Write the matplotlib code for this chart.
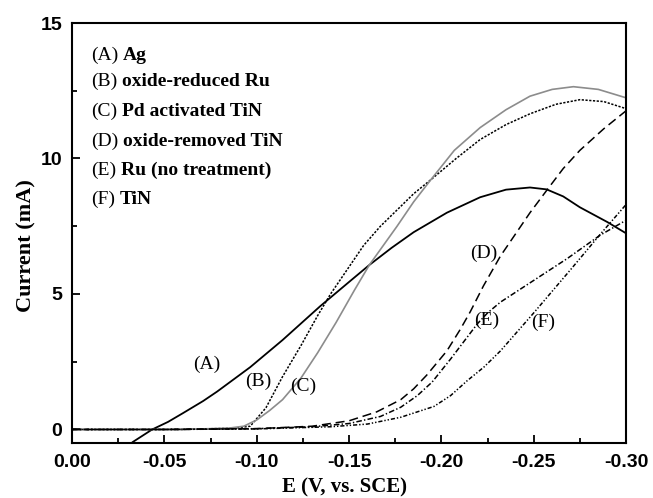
import matplotlib
matplotlib.use("Agg")
import matplotlib.pyplot as plt
from matplotlib.ticker import MultipleLocator, FormatStrFormatter

plt.rcParams["axes.unicode_minus"] = False
plt.rcParams["lines.scale_dashes"] = False

# Polarization curves: potential (V vs. SCE) and current (mA)
A_E = [-0.0325, -0.0434, -0.052, -0.060, -0.071, -0.0786, -0.0965, -0.114, -0.1344,
       -0.151, -0.161, -0.173, -0.185, -0.203, -0.221, -0.235, -0.248, -0.257,
       -0.266, -0.275, -0.290, -0.300]
A_I = [-0.48, 0.0, 0.28, 0.6, 1.05, 1.4, 2.3, 3.3, 4.55,
       5.5, 6.07, 6.7, 7.28, 8.0, 8.57, 8.85, 8.93, 8.86,
       8.6, 8.2, 7.65, 7.24]

B_E = [0.0, -0.06, -0.088, -0.0965, -0.105, -0.114, -0.124, -0.133, -0.140, -0.151,
       -0.158, -0.167, -0.176, -0.185, -0.194, -0.208, -0.221, -0.235, -0.248,
       -0.262, -0.275, -0.288, -0.300]
B_I = [0.0, 0.0, 0.05, 0.12, 0.8, 1.95, 3.1, 4.2, 5.0, 6.1,
       6.8, 7.5, 8.1, 8.7, 9.2, 10.0, 10.7, 11.25, 11.65,
       12.0, 12.17, 12.1, 11.84]

C_E = [0.0, -0.06, -0.085, -0.093, -0.100, -0.107, -0.114, -0.124, -0.133, -0.143,
       -0.153, -0.161, -0.176, -0.185, -0.194, -0.207, -0.221, -0.235, -0.248,
       -0.260, -0.2715, -0.285, -0.300]
C_I = [0.0, 0.0, 0.05, 0.12, 0.35, 0.7, 1.1, 1.9, 2.83, 3.95,
       5.15, 6.07, 7.5, 8.4, 9.19, 10.3, 11.14, 11.8, 12.3,
       12.55, 12.65, 12.55, 12.24]

D_E = [0.0, -0.05, -0.10, -0.13, -0.15, -0.165, -0.178, -0.185, -0.192, -0.203, -0.2103,
       -0.2157, -0.2228, -0.232, -0.239, -0.248, -0.257, -0.266, -0.275, -0.288, -0.300]
D_I = [0.0, 0.0, 0.03, 0.12, 0.32, 0.65, 1.1, 1.5, 2.0, 2.9, 3.7,
       4.35, 5.3, 6.4, 7.1, 8.0, 8.82, 9.63, 10.3, 11.1, 11.76]

E_E = [0.0, -0.05, -0.10, -0.13, -0.15, -0.167, -0.178, -0.187, -0.195, -0.205,
       -0.2195, -0.225, -0.232, -0.250, -0.268, -0.286, -0.300]
E_I = [0.0, 0.0, 0.03, 0.1, 0.22, 0.48, 0.82, 1.25, 1.75, 2.6,
       3.9, 4.3, 4.7, 5.5, 6.3, 7.17, 7.72]

F_E = [0.0, -0.05, -0.10, -0.14, -0.16, -0.178, -0.196, -0.205, -0.214, -0.223,
       -0.232, -0.241, -0.250, -0.260, -0.270, -0.286, -0.300]
F_I = [0.0, 0.0, 0.02, 0.1, 0.2, 0.45, 0.85, 1.25, 1.8, 2.3,
       2.9, 3.6, 4.3, 5.1, 5.9, 7.2, 8.3]

curve_tags = ["(A)", "(B)", "(C)", "(D)", "(E)", "(F)"]
curve_names = ["Ag", "oxide-reduced Ru", "Pd activated TiN",
               "oxide-removed TiN", "Ru (no treatment)", "TiN"]
tag_E = [-0.0732, -0.1008, -0.1252, -0.2228, -0.2244, -0.2553]
tag_I = [2.39, 1.76, 1.58, 6.5, 4.04, 3.97]

x_ticks = [0.00, -0.05, -0.10, -0.15, -0.20, -0.25, -0.30]
y_ticks = [0, 5, 10, 15]

SERIF = "Liberation Serif"
SANS = "Liberation Sans"

fig = plt.figure(figsize=(6.53, 4.98), dpi=100)
ax = fig.add_axes([0.1103, 0.1104, 0.8484, 0.8434])

ax.plot(A_E, A_I, color="black", lw=1.3, solid_capstyle="butt")
ax.plot(B_E, B_I, color="black", lw=1.1, dashes=(1.6, 1.1))
ax.plot(C_E, C_I, color="#8c8c8c", lw=1.2)
ax.plot(D_E, D_I, color="black", lw=1.1, dashes=(6.5, 3.5))
ax.plot(E_E, E_I, color="black", lw=1.1, dashes=(4.0, 1.6, 1.0, 1.6))
ax.plot(F_E, F_I, color="black", lw=1.1, dashes=(3.0, 1.4, 1.0, 1.4, 1.0, 1.4))

ax.set_xlim(0.0, -0.30)
ax.set_ylim(-0.5, 15)

ax.xaxis.set_minor_locator(MultipleLocator(0.025))
ax.yaxis.set_minor_locator(MultipleLocator(2.5))
ax.set_xticks(x_ticks)
ax.set_yticks(y_ticks)
ax.xaxis.set_major_formatter(FormatStrFormatter("%.2f"))

ax.tick_params(which="both", direction="in", top=False, right=False, width=1.3)
ax.tick_params(which="major", length=6)
ax.tick_params(which="minor", length=3.5)
ax.tick_params(axis="y", pad=7)
ax.tick_params(axis="x", pad=8)
for lab in ax.get_xticklabels() + ax.get_yticklabels():
    lab.set_fontfamily(SANS)
    lab.set_fontweight("bold")
    lab.set_fontsize(14)

for sp in ax.spines.values():
    sp.set_linewidth(1.5)

ax.set_xlabel("E (V, vs. SCE)", fontfamily=SERIF, fontweight="bold", fontsize=15)
ax.set_ylabel("Current (mA)", fontfamily=SERIF, fontweight="bold", fontsize=16)
ax.xaxis.set_label_coords(0.491, -0.083)
ax.yaxis.set_label_coords(-0.065, 0.469)

# Key in the upper left corner: regular tag followed by bold name
key_y = [0.924, 0.860, 0.790, 0.719, 0.650, 0.581]
for tag, name, ky in zip(curve_tags, curve_names, key_y):
    t1 = ax.text(0.0343, ky, tag, transform=ax.transAxes, fontfamily=SERIF,
                 fontsize=14, va="center", ha="left")
    ax.annotate(name, xy=(1, 0), xycoords=t1, xytext=(3.4, 0),
                textcoords="offset points", fontfamily=SERIF, fontweight="bold",
                fontsize=14, va="bottom", ha="left")

# Curve tags next to each curve
for tag, e, i in zip(curve_tags, tag_E, tag_I):
    ax.text(e, i, tag, fontfamily=SERIF, fontsize=14, ha="center", va="center")

fig.savefig("out.png", dpi=100)
